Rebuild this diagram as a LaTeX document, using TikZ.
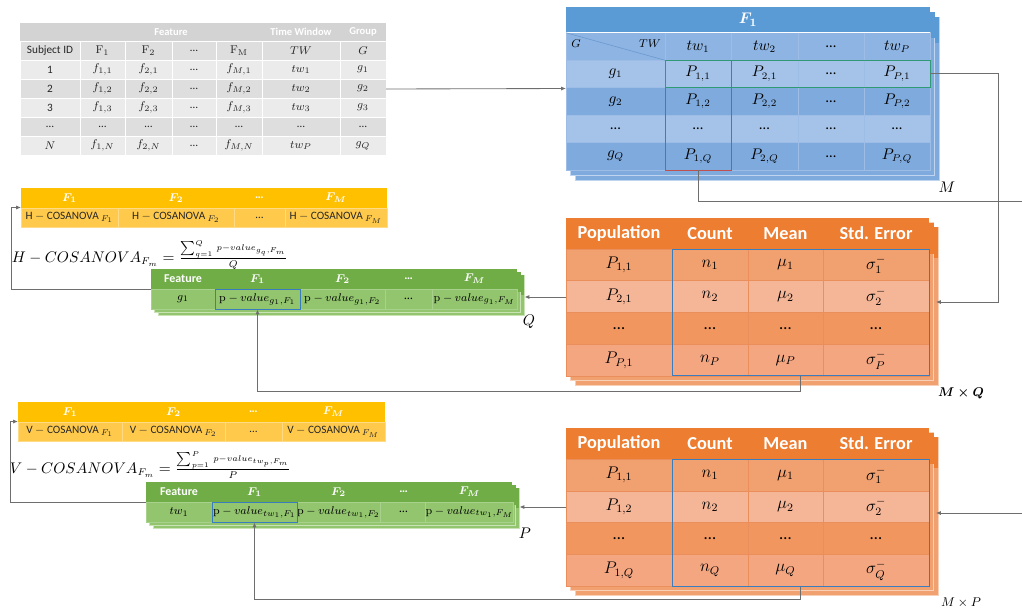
\documentclass[tikz,border=0pt]{standalone}
\usepackage[no-math]{fontspec}
\setmainfont{Carlito}
\usetikzlibrary{arrows.meta,positioning,calc,fit,backgrounds}
\newcommand{\pxl}{0.025cm}
\definecolor{grayH}{HTML}{D3D3D3}
\definecolor{grayA}{HTML}{DEDEDE}
\definecolor{grayB}{HTML}{EBEBEB}
\definecolor{blueH}{HTML}{5B9BD5}
\definecolor{blueC}{HTML}{8DB4E2}
\definecolor{blueA}{HTML}{A5C3E8}
\definecolor{blueB}{HTML}{7FAADD}
\definecolor{blueL}{HTML}{9DBDE6}
\definecolor{blueD}{HTML}{6A98CF}
\definecolor{selG}{HTML}{2F9A74}
\definecolor{selR}{HTML}{C0504D}
\definecolor{selB}{HTML}{3A7DBE}
\definecolor{orH}{HTML}{ED7D31}
\definecolor{orA}{HTML}{F1A070}
\definecolor{orB}{HTML}{F5B597}
\definecolor{orC}{HTML}{F0965E}
\definecolor{orD}{HTML}{F4A681}
\definecolor{orL}{HTML}{EA8E5B}
\definecolor{grH}{HTML}{70AD47}
\definecolor{grR}{HTML}{92C56E}
\definecolor{grL}{HTML}{A9D18E}
\definecolor{yH}{HTML}{FFC000}
\definecolor{yR}{HTML}{FFCA4C}
\definecolor{yL}{HTML}{FFDB85}
\definecolor{connC}{HTML}{6E6E6E}

\begin{document}
\begin{tikzpicture}[
  x=0.025cm, y=-0.025cm,
  cell/.style={rectangle, inner sep=0pt, outer sep=0pt, line width=0.4pt},
  tblframe/.style={rectangle, inner sep=0pt, outer sep=0pt},
  graycell/.style={cell, draw=white, text=black!85, minimum height=19*\pxl, font=\fontsize{8}{9.5}\selectfont},
  graytitle/.style={text=white, font=\fontsize{7.5}{9}\selectfont\bfseries},
  bluecell/.style={cell, draw=blueL, text=black, minimum height=27.5*\pxl, font=\fontsize{10.5}{12}\selectfont},
  orhead/.style={cell, fill=orH, text=white, minimum height=31*\pxl, font=\fontsize{13}{15}\selectfont\bfseries},
  orcell/.style={cell, draw=orL, text=black, minimum height=31.75*\pxl, font=\fontsize{12}{14}\selectfont},
  grhead/.style={cell, fill=grH, text=white, minimum height=20*\pxl, font=\fontsize{8.5}{10}\selectfont\bfseries\boldmath},
  grcell/.style={cell, fill=grR, draw=grL, text=black, minimum height=20*\pxl, font=\fontsize{8.5}{10}\selectfont},
  yhead/.style={cell, fill=yH, text=white, minimum height=20*\pxl, font=\fontsize{8.5}{10}\selectfont\bfseries\boldmath},
  ycell/.style={cell, fill=yR, draw=yL, text=black!85, minimum height=19*\pxl, font=\fontsize{8}{10}\selectfont},
  selbox/.style={draw=#1, line width=0.7pt, inner sep=0pt},
  sizelabel/.style={font=\fontsize{10.5}{12}\selectfont},
  formula/.style={anchor=base west, font=\fontsize{10.5}{12}\selectfont},
  conn/.style={draw=connC, line width=0.6pt, -{Latex[length=1.2mm, width=1mm]}}
]
  \useasboundingbox (0,0) rectangle (1022,614);

  % raw data table
  \node[tblframe, minimum width=366*\pxl, minimum height=132*\pxl] (raw) at (203,89) {};
  \node[cell, fill=grayH, minimum width=366*\pxl, minimum height=18*\pxl] (raw-h) at (203,32) {};
  \foreach \x/\t [count=\c] in {171/Feature, 301/Time Window, 363/Group}
    \node[graytitle] (raw-h\c) at (\x,32) {\t};
  \foreach \r/\y/\fc/\ca/\cb/\cc/\cd/\ce/\cf/\cg in {
      1/50.5/grayA/Subject ID/{$\mathrm{F}_1$}/{$\mathrm{F}_2$}/\ldots/{$\mathrm{F}_\mathrm{M}$}/{$TW$}/{$G$},
      2/69.5/grayB/1/{$f_{1,1}$}/{$f_{2,1}$}/\ldots/{$f_{M,1}$}/{$tw_1$}/{$g_1$},
      3/88.5/grayA/2/{$f_{1,2}$}/{$f_{2,2}$}/\ldots/{$f_{M,2}$}/{$tw_2$}/{$g_2$},
      4/107.5/grayB/3/{$f_{1,3}$}/{$f_{2,3}$}/\ldots/{$f_{M,3}$}/{$tw_3$}/{$g_3$},
      5/126.5/grayA/\ldots/\ldots/\ldots/\ldots/\ldots/\ldots/\ldots,
      6/145.5/grayB/{$N$}/{$f_{1,N}$}/{$f_{2,N}$}/\ldots/{$f_{M,N}$}/{$tw_P$}/{$g_Q$}} {
    \node[graycell, fill=\fc, minimum width=60*\pxl] (raw-\r-1) at (50,\y) {\ca};
    \node[graycell, fill=\fc, minimum width=45*\pxl] (raw-\r-2) at (102.5,\y) {\cb};
    \node[graycell, fill=\fc, minimum width=47*\pxl] (raw-\r-3) at (148.5,\y) {\cc};
    \node[graycell, fill=\fc, minimum width=44*\pxl] (raw-\r-4) at (194,\y) {\cd};
    \node[graycell, fill=\fc, minimum width=46*\pxl] (raw-\r-5) at (239,\y) {\ce};
    \node[graycell, fill=\fc, minimum width=78*\pxl] (raw-\r-6) at (301,\y) {\cf};
    \node[graycell, fill=\fc, minimum width=46*\pxl] (raw-\r-7) at (363,\y) {\cg};
  }

  % p-value matrix
  \node[tblframe, minimum width=364*\pxl, minimum height=163*\pxl] (pmat) at (748,88.5) {};
  \node[cell, fill=blueH, minimum width=364*\pxl, minimum height=26*\pxl] (pmat-h) at (748,19.75) {};
  \node[text=white, font=\fontsize{11}{13}\selectfont\boldmath] (pmat-t) at (pmat-h) {$F_1$};
  \foreach \r/\y/\fc/\ca/\cb/\cc/\cd/\ce in {
      1/46.5/blueC/{}/{$tw_1$}/{$tw_2$}/\ldots/{$tw_P$},
      2/73.75/blueA/{$g_1$}/{$P_{1,1}$}/{$P_{2,1}$}/\ldots/{$P_{P,1}$},
      3/101.25/blueB/{$g_2$}/{$P_{1,2}$}/{$P_{2,2}$}/\ldots/{$P_{P,2}$},
      4/128.75/blueA/\ldots/\ldots/\ldots/\ldots/\ldots,
      5/156.25/blueB/{$g_Q$}/{$P_{1,Q}$}/{$P_{2,Q}$}/\ldots/{$P_{P,Q}$}} {
    \node[bluecell, fill=\fc, minimum width=99*\pxl] (pmat-\r-1) at (615.5,\y) {\ca};
    \node[bluecell, fill=\fc, minimum width=66*\pxl] (pmat-\r-2) at (698,\y) {\cb};
    \node[bluecell, fill=\fc, minimum width=67*\pxl] (pmat-\r-3) at (764.5,\y) {\cc};
    \node[bluecell, fill=\fc, minimum width=66*\pxl] (pmat-\r-4) at (831,\y) {\cd};
    \node[bluecell, fill=\fc, minimum width=66*\pxl] (pmat-\r-5) at (897,\y) {\ce};
  }
  \draw[white, line width=0.8pt] (pmat-h.south west) -- (pmat-h.south east);
  \draw[blueD, line width=0.4pt] (pmat-1-1.north west) -- (pmat-1-1.south east);
  \node[font=\fontsize{8.5}{10}\selectfont] (pmat-g) at (576,44) {$G$};
  \node[font=\fontsize{8.5}{10}\selectfont] (pmat-tw) at (650,44) {$TW$};
  \node[fit=(pmat-2-2)(pmat-5-2), selbox=selR] (colsel) {};
  \node[fit=(pmat-2-2)(pmat-2-5), selbox=selG] (rowsel) {};
  \node[sizelabel] (pmat-n) at (947,187) {$M$};

  % group statistics
  \node[tblframe, minimum width=363*\pxl, minimum height=158*\pxl] (gstat) at (747.5,297) {};
  \foreach \x/\w/\t [count=\c] in {619/106/Population, 710/76/Count, 785.5/75/Mean, 876/106/Std. Error}
    \node[orhead, minimum width=\w*\pxl] (gstat-0-\c) at (\x,233.5) {\t};
  \foreach \r/\y/\fc/\ca/\cb/\cc/\cd in {
      1/264.9/orA/{$P_{1,1}$}/{$n_1$}/{$\mu_1$}/{$\sigma_1^-$},
      2/296.6/orB/{$P_{2,1}$}/{$n_2$}/{$\mu_2$}/{$\sigma_2^-$},
      3/328.4/orC/\ldots/\ldots/\ldots/\ldots,
      4/360.1/orD/{$P_{P,1}$}/{$n_P$}/{$\mu_P$}/{$\sigma_P^-$}} {
    \node[orcell, fill=\fc, minimum width=106*\pxl] (gstat-\r-1) at (619,\y) {\ca};
    \node[orcell, fill=\fc, minimum width=76*\pxl] (gstat-\r-2) at (710,\y) {\cb};
    \node[orcell, fill=\fc, minimum width=75*\pxl] (gstat-\r-3) at (785.5,\y) {\cc};
    \node[orcell, fill=\fc, minimum width=106*\pxl] (gstat-\r-4) at (876,\y) {\cd};
  }
  \node[fit=(gstat-1-2)(gstat-4-4), selbox=selB] (gsel) {};
  \node[font=\fontsize{9.5}{11}\selectfont\boldmath] (gstat-n) at (961,393) {$M\times Q$};

  % time window statistics
  \node[tblframe, minimum width=363*\pxl, minimum height=158*\pxl] (tstat) at (747.5,507) {};
  \foreach \x/\w/\t [count=\c] in {619/106/Population, 710/76/Count, 785.5/75/Mean, 876/106/Std. Error}
    \node[orhead, minimum width=\w*\pxl] (tstat-0-\c) at (\x,443.5) {\t};
  \foreach \r/\y/\fc/\ca/\cb/\cc/\cd in {
      1/475/orA/{$P_{1,1}$}/{$n_1$}/{$\mu_1$}/{$\sigma_1^-$},
      2/506.75/orB/{$P_{1,2}$}/{$n_2$}/{$\mu_2$}/{$\sigma_2^-$},
      3/538.5/orC/\ldots/\ldots/\ldots/\ldots,
      4/570.25/orD/{$P_{1,Q}$}/{$n_Q$}/{$\mu_Q$}/{$\sigma_Q^-$}} {
    \node[orcell, fill=\fc, minimum width=106*\pxl] (tstat-\r-1) at (619,\y) {\ca};
    \node[orcell, fill=\fc, minimum width=76*\pxl] (tstat-\r-2) at (710,\y) {\cb};
    \node[orcell, fill=\fc, minimum width=75*\pxl] (tstat-\r-3) at (785.5,\y) {\cc};
    \node[orcell, fill=\fc, minimum width=106*\pxl] (tstat-\r-4) at (876,\y) {\cd};
  }
  \node[fit=(tstat-1-2)(tstat-4-4), selbox=selB] (tsel) {};
  \node[font=\fontsize{9.5}{11}\selectfont] (tstat-n) at (961,603) {$M\times P$};

  % p-values per group
  \node[tblframe, minimum width=366*\pxl, minimum height=40*\pxl] (hpv) at (334,289) {};
  \foreach \x/\w/\t [count=\c] in {183/64/Feature, 257.5/85/{$F_1$}, 342.5/85/{$F_2$}, 408.5/47/\ldots, 474.5/85/{$F_M$}}
    \node[grhead, minimum width=\w*\pxl] (hpv-1-\c) at (\x,279) {\t};
  \foreach \x/\w/\t [count=\c] in {183/64/{$g_1$}, 257.5/85/{$\mathrm{p}-value_{g_1,F_1}$}, 342.5/85/{$\mathrm{p}-value_{g_1,F_2}$}, 408.5/47/\ldots, 474.5/85/{$\mathrm{p}-value_{g_1,F_M}$}}
    \node[grcell, minimum width=\w*\pxl] (hpv-2-\c) at (\x,299) {\t};
  \node[fit=(hpv-2-2), selbox=selB] (hsel) {};
  \node[sizelabel] (hpv-n) at (529,322) {$Q$};

  % p-values per time window
  \node[tblframe, minimum width=366*\pxl, minimum height=40*\pxl] (vpv) at (329,502) {};
  \foreach \x/\w/\t [count=\c] in {179/66/Feature, 254.5/85/{$F_1$}, 338.5/83/{$F_2$}, 403.5/47/\ldots, 469.5/85/{$F_M$}}
    \node[grhead, minimum width=\w*\pxl] (vpv-1-\c) at (\x,492) {\t};
  \foreach \x/\w/\t [count=\c] in {179/66/{$tw_1$}, 254.5/85/{$\mathrm{p}-value_{tw_1,F_1}$}, 338.5/83/{$\mathrm{p}-value_{tw_1,F_2}$}, 403.5/47/\ldots, 469.5/85/{$\mathrm{p}-value_{tw_1,F_M}$}}
    \node[grcell, minimum width=\w*\pxl] (vpv-2-\c) at (\x,512) {\t};
  \node[fit=(vpv-2-2), selbox=selB] (vsel) {};
  \node[sizelabel] (vpv-n) at (525,533) {$P$};

  % COSANOVA results
  \node[tblframe, minimum width=366*\pxl, minimum height=39*\pxl] (hcos) at (204,207.5) {};
  \foreach \x/\w/\t [count=\c] in {69.5/97/{$F_1$}, 176/116/{$F_2$}, 259.5/51/\ldots, 336/102/{$F_M$}}
    \node[yhead, minimum width=\w*\pxl] (hcos-1-\c) at (\x,198) {\t};
  \foreach \x/\w/\t [count=\c] in {69.5/97/{H $-$ COSANOVA$\,_{F_1}$}, 176/116/{H $-$ COSANOVA$\,_{F_2}$}, 259.5/51/\ldots, 336/102/{H $-$ COSANOVA$\,_{F_M}$}}
    \node[ycell, minimum width=\w*\pxl] (hcos-2-\c) at (\x,217.5) {\t};

  \node[tblframe, minimum width=367*\pxl, minimum height=39*\pxl] (vcos) at (201.5,421.5) {};
  \foreach \x/\w/\t [count=\c] in {70/104/{$F_1$}, 173.5/103/{$F_2$}, 253.5/57/\ldots, 333.5/103/{$F_M$}}
    \node[yhead, minimum width=\w*\pxl] (vcos-1-\c) at (\x,412) {\t};
  \foreach \x/\w/\t [count=\c] in {70/104/{V $-$ COSANOVA$\,_{F_1}$}, 173.5/103/{V $-$ COSANOVA$\,_{F_2}$}, 253.5/57/\ldots, 333.5/103/{V $-$ COSANOVA$\,_{F_M}$}}
    \node[ycell, minimum width=\w*\pxl] (vcos-2-\c) at (\x,431.5) {\t};

  \node[formula] (hform) at (7,262.5) {$H-COSANOVA_{F_m}=\frac{\mbox{\fontsize{6}{7}\selectfont$\sum_{q=1}^{Q}\,p{-}value_{g_q,F_m}$}}{Q}$};
  \node[formula] (vform) at (5,473.5) {$V-COSANOVA_{F_m}=\frac{\mbox{\fontsize{6}{7}\selectfont$\sum_{p=1}^{P}\,p{-}value_{tw_p,F_m}$}}{P}$};

  % stacked copies
  \begin{scope}[on background layer]
    \foreach \t/\hd/\dx/\dy/\cb/\ch in {pmat/pmat-h/4.5/5/blueB/blueH, gstat/gstat-0-4/4.5/4.5/orA/orH, tstat/tstat-0-4/4.5/4.5/orA/orH, hpv/hpv-1-5/3.5/3/grR/grH, vpv/vpv-1-5/3.5/3/grR/grH}
      \foreach \k in {2,1} {
        \draw[fill=\cb, draw=white!50!\cb, line width=0.4pt] ($(\t.north west)+(\k*\dx,\k*\dy)$) rectangle ($(\t.south east)+(\k*\dx,\k*\dy)$);
        \fill[\ch] ($(\t.north west)+(\k*\dx,\k*\dy)$) rectangle ($(\hd.south east)+(\k*\dx,\k*\dy)$);
      }
  \end{scope}

  \coordinate (hpv-r) at ($(hpv.east)+(7.5,0)$);
  \coordinate (vpv-r) at ($(vpv.east)+(7.5,0)$);
  \coordinate (gstat-r) at ($(gstat.east)+(7,5)$);
  \coordinate (tstat-r) at ($(tstat.east)+(7,6)$);
  \coordinate (turn) at (1030,201);

  \draw[conn] (raw.east) -- (pmat.west);
  \draw[conn] (rowsel.east) -- ++(68,0) |- (gstat-r);
  \draw[conn] (colsel.south) |- (turn) |- (tstat-r);
  \draw[conn] (gstat.west) -- (gstat.west -| hpv-r);
  \draw[conn] (tstat.west) -- (tstat.west -| vpv-r);
  \draw[conn] (gsel.south) -- ++(0,15) -| (hsel.south);
  \draw[conn] (tsel.south) -- ++(0,13) -| (vsel.south);
  \draw[conn] (hpv.west) -- ++(-140,0) |- (hcos.west);
  \draw[conn] (vpv.west) -- ++(-136,0) |- (vcos.west);
\end{tikzpicture}
\end{document}
